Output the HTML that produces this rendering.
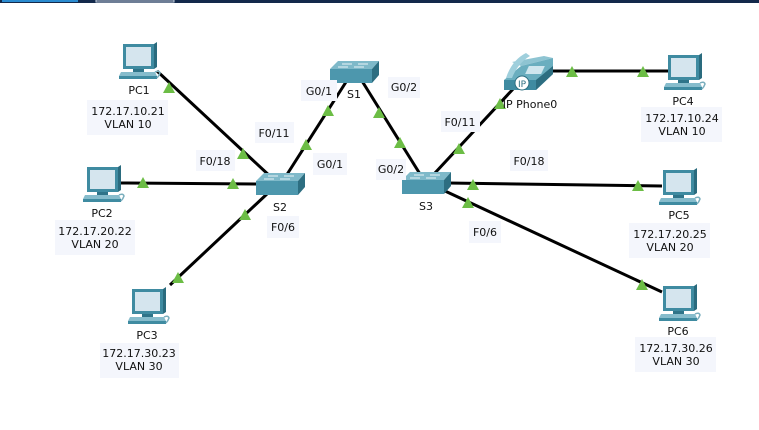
<!DOCTYPE html>
<html><head><meta charset="utf-8"><style>
html,body{margin:0;padding:0;background:#fff;width:759px;height:430px;overflow:hidden}
svg{display:block}
text{font-family:"DejaVu Sans","Liberation Sans",sans-serif;font-size:11px;fill:#111}
</style></head><body>
<svg width="759" height="430" viewBox="0 0 759 430" xmlns="http://www.w3.org/2000/svg">
<defs>
<g id="pc">
  <rect x="4" y="0" width="31" height="25" fill="#3f8ba1"/>
  <polygon points="35,0 38,-2 38,23 35,25" fill="#2a6b7e"/>
  <rect x="7" y="3" width="25" height="19" fill="#d5e5ee"/>
  <rect x="14" y="25" width="11" height="3" fill="#2f7489"/>
  <polygon points="2,28 36,28 38,32 0,32" fill="#86bccc"/>
  <rect x="0" y="32" width="38" height="3" fill="#3f8ba1"/>
  <path d="M36,28 q4,-2 5,1 q-1,3 -3,5" fill="none" stroke="#7aaebd" stroke-width="1.5"/>
</g>
<g id="sw">
  <polygon points="8,0 49,0 42,8 0,8" fill="#7fb9c9"/>
  <rect x="0" y="8" width="42" height="14" fill="#4d97ad"/>
  <polygon points="42,8 49,0 49,14 42,22" fill="#2d6e81"/>
  <path d="M12,3 h10 M28,3 h10 M8,6 h10 M24,6 h10" stroke="#e8f3f6" stroke-width="1"/>
</g>
<polygon id="tri" points="0,-6 6,5 -6,5" fill="#6cbd45"/>
</defs>

<rect x="0" y="0" width="759" height="3" fill="#13294b"/>
<rect x="2" y="0" width="76" height="2" fill="#2a8bd0"/>
<rect x="96" y="0" width="78" height="2" fill="#13294b" stroke="#c8d4e2" stroke-width="1"/>

<g stroke="#000" stroke-width="3" fill="none">
  <line x1="157" y1="71" x2="272" y2="178"/>
  <line x1="120" y1="183" x2="260" y2="184"/>
  <line x1="170" y1="285" x2="268" y2="193"/>
  <line x1="286" y1="176" x2="346" y2="82"/>
  <line x1="362" y1="81" x2="420" y2="174"/>
  <line x1="434" y1="174" x2="514" y2="88"/>
  <line x1="552" y1="71" x2="668" y2="71"/>
  <line x1="448" y1="183" x2="662" y2="186"/>
  <line x1="445" y1="191" x2="662" y2="292"/>
</g>

<use href="#pc" x="119" y="44"/>
<use href="#pc" x="83" y="167"/>
<use href="#pc" x="128" y="289"/>
<use href="#pc" x="664" y="55"/>
<use href="#pc" x="659" y="170"/>
<use href="#pc" x="659" y="286"/>

<use href="#sw" x="330" y="61"/>
<use href="#sw" x="256" y="173"/>
<use href="#sw" x="402" y="172"/>

<!-- IP phone -->
<g>
  <polygon points="512,62 544,56 553,58 521,66" fill="#8ec4d2"/>
  <polygon points="504,80 521,66 553,58 553,74 536,90 504,90" fill="#6aaebf"/>
  <polygon points="504,80 536,80 536,90 504,90" fill="#3f8ba1"/>
  <polygon points="536,80 553,66 553,74 536,90" fill="#2d6e81"/>
  <path d="M506,78 q6,-18 20,-25 l4,3 q-12,7 -18,22z" fill="#9fcfdc"/>
  <rect x="527" y="66" width="16" height="8" fill="#cfe6ee" transform="skewX(-25)" transform-origin="535 70"/>
  <circle cx="522" cy="83" r="7" fill="#fff" stroke="#2d6e81" stroke-width="1"/>
  <text x="522" y="87" text-anchor="middle" style="font-size:9px;fill:#2d6e81">IP</text>
</g>

<g>
  <use href="#tri" x="169" y="88"/>
  <use href="#tri" x="243" y="154"/>
  <use href="#tri" x="143" y="183"/>
  <use href="#tri" x="233" y="184"/>
  <use href="#tri" x="245" y="215"/>
  <use href="#tri" x="178" y="278"/>
  <use href="#tri" x="306" y="145"/>
  <use href="#tri" x="328" y="111"/>
  <use href="#tri" x="379" y="113"/>
  <use href="#tri" x="400" y="143"/>
  <use href="#tri" x="459" y="149"/>
  <use href="#tri" x="500" y="104"/>
  <use href="#tri" x="572" y="72"/>
  <use href="#tri" x="643" y="72"/>
  <use href="#tri" x="473" y="185"/>
  <use href="#tri" x="638" y="186"/>
  <use href="#tri" x="468" y="203"/>
  <use href="#tri" x="642" y="285"/>
</g>

<g fill="#f4f6fc">
  <rect x="87" y="100" width="81" height="35"/>
  <rect x="55" y="220" width="80" height="35"/>
  <rect x="100" y="343" width="79" height="35"/>
  <rect x="641" y="107" width="81" height="35"/>
  <rect x="629" y="223" width="81" height="35"/>
  <rect x="635" y="337" width="81" height="35"/>
  <rect x="301" y="80" width="36" height="21"/>
  <rect x="255" y="122" width="39" height="21"/>
  <rect x="196" y="150" width="39" height="21"/>
  <rect x="313" y="153" width="34" height="22"/>
  <rect x="267" y="216" width="32" height="22"/>
  <rect x="388" y="77" width="32" height="21"/>
  <rect x="376" y="159" width="30" height="21"/>
  <rect x="441" y="111" width="39" height="21"/>
  <rect x="510" y="150" width="38" height="21"/>
  <rect x="469" y="221" width="32" height="22"/>
</g>

<g text-anchor="middle">
  <text x="139" y="94">PC1</text>
  <text x="128" y="115">172.17.10.21</text>
  <text x="128" y="128">VLAN 10</text>
  <text x="102" y="217">PC2</text>
  <text x="95" y="235">172.17.20.22</text>
  <text x="95" y="248">VLAN 20</text>
  <text x="147" y="339">PC3</text>
  <text x="139" y="357">172.17.30.23</text>
  <text x="139" y="370">VLAN 30</text>
  <text x="683" y="105">PC4</text>
  <text x="682" y="122">172.17.10.24</text>
  <text x="682" y="135">VLAN 10</text>
  <text x="679" y="219">PC5</text>
  <text x="670" y="238">172.17.20.25</text>
  <text x="670" y="251">VLAN 20</text>
  <text x="678" y="335">PC6</text>
  <text x="676" y="352">172.17.30.26</text>
  <text x="676" y="365">VLAN 30</text>
  <text x="354" y="98">S1</text>
  <text x="280" y="211">S2</text>
  <text x="426" y="210">S3</text>
  <text x="530" y="108">IP Phone0</text>
  <text x="319" y="95">G0/1</text>
  <text x="274" y="137">F0/11</text>
  <text x="215" y="165">F0/18</text>
  <text x="330" y="168">G0/1</text>
  <text x="283" y="231">F0/6</text>
  <text x="404" y="91">G0/2</text>
  <text x="391" y="173">G0/2</text>
  <text x="460" y="126">F0/11</text>
  <text x="529" y="165">F0/18</text>
  <text x="485" y="236">F0/6</text>
</g>
</svg>
</body></html>
